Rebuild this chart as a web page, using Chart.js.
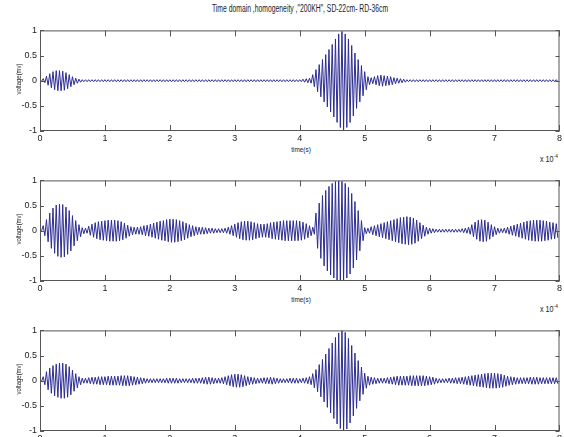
<!DOCTYPE html>
<html>
<head>
<meta charset="utf-8">
<script src="https://cdn.jsdelivr.net/npm/chart.js@4.4.1/dist/chart.umd.min.js"></script>
<style>
  html, body { margin: 0; padding: 0; background: #fff; overflow: hidden; }
  body { width: 564px; height: 437px; position: relative; font-family: 'Liberation Sans', sans-serif; color: #222; }
  .box { position: absolute; left: 0; width: 564px; height: 123px; }
  .lbl { position: absolute; white-space: nowrap; font-size: 8px; line-height: 8px; }
  .ylab { transform: translate(-50%, -50%) rotate(-90deg) scaleX(0.85); font-size: 7px; }
  .xlab { transform: translateX(-50%) scaleX(0.8); }
  .title { position: absolute; left: 300px; top: 3px; transform: translateX(-50%) scaleX(0.68); font-size: 10px; white-space: nowrap; }
  .exp { transform: scaleX(0.8); transform-origin: left top; font-size: 9px; }
  sup { font-size: 6px; vertical-align: 4px; }
</style>
</head>
<body>
<div class="title">Time domain ,homogeneity ,"200KH", SD-22cm- RD-36cm</div>

<div class="box" style="top:22px"><canvas id="c1"></canvas></div>
<div class="box" style="top:172px"><canvas id="c2"></canvas></div>
<div class="box" style="top:322px"><canvas id="c3"></canvas></div>

<div class="lbl ylab" style="left:19px; top:79px">voltage(mv)</div>
<div class="lbl ylab" style="left:19px; top:229px">voltage(mv)</div>
<div class="lbl ylab" style="left:19px; top:379px">voltage(mv)</div>

<div class="lbl xlab" style="left:301px; top:146px">time(s)</div>
<div class="lbl xlab" style="left:301px; top:296px">time(s)</div>

<div class="lbl exp" style="left:540px; top:152px">x 10<sup>-4</sup></div>
<div class="lbl exp" style="left:540px; top:302px">x 10<sup>-4</sup></div>

<script>
// time axis in units of 1e-4 s, one carrier cycle (200 kHz) = 0.05
var cycle = 0.05;
var xTicks = [0, 1, 2, 3, 4, 5, 6, 7, 8];
var yTicks = [-1, -0.5, 0, 0.5, 1];

// peak amplitude of each carrier cycle (20 per 1e-4 s)
var amp1 = [
  0.01,0.04,0.09,0.14,0.18,0.20,0.20,0.19,0.16,0.12,0.08,0.05,0.03,0.02,0.02,0.02,0.02,0.02,0.02,0.02,
  0.02,0.02,0.02,0.02,0.02,0.02,0.02,0.02,0.02,0.02,0.02,0.02,0.02,0.02,0.02,0.02,0.02,0.02,0.02,0.02,
  0.02,0.02,0.02,0.02,0.02,0.02,0.02,0.02,0.02,0.02,0.02,0.02,0.02,0.02,0.02,0.02,0.02,0.02,0.02,0.02,
  0.02,0.02,0.02,0.02,0.02,0.02,0.02,0.02,0.02,0.02,0.02,0.02,0.02,0.02,0.02,0.02,0.02,0.02,0.02,0.02,
  0.02,0.03,0.04,0.05,0.12,0.22,0.32,0.42,0.52,0.62,0.72,0.83,0.93,0.98,0.93,0.83,0.70,0.55,0.42,0.30,
  0.18,0.08,0.06,0.08,0.10,0.11,0.10,0.09,0.08,0.06,0.05,0.04,0.03,0.02,0.02,0.02,0.02,0.02,0.02,0.02,
  0.02,0.02,0.02,0.02,0.02,0.02,0.02,0.02,0.02,0.02,0.02,0.02,0.02,0.02,0.02,0.02,0.02,0.02,0.02,0.02,
  0.02,0.02,0.02,0.02,0.02,0.02,0.02,0.02,0.02,0.02,0.02,0.02,0.02,0.02,0.02,0.02,0.02,0.02,0.02,0.02
];
var amp2 = [
  0.00,0.10,0.22,0.35,0.45,0.51,0.53,0.52,0.47,0.40,0.30,0.20,0.12,0.06,0.05,0.09,0.13,0.16,0.18,0.19,
  0.20,0.21,0.21,0.21,0.20,0.18,0.15,0.11,0.08,0.07,0.07,0.08,0.10,0.11,0.13,0.15,0.17,0.19,0.20,0.22,
  0.23,0.23,0.22,0.20,0.18,0.15,0.12,0.10,0.08,0.07,0.07,0.06,0.05,0.05,0.04,0.04,0.04,0.05,0.07,0.10,
  0.13,0.16,0.18,0.19,0.19,0.18,0.16,0.14,0.13,0.13,0.14,0.16,0.17,0.18,0.19,0.20,0.20,0.20,0.20,0.20,
  0.19,0.17,0.14,0.10,0.07,0.35,0.55,0.70,0.80,0.88,0.94,0.98,0.99,0.98,0.94,0.86,0.74,0.58,0.40,0.20,
  0.06,0.05,0.08,0.10,0.12,0.14,0.16,0.18,0.20,0.22,0.24,0.26,0.27,0.28,0.27,0.25,0.21,0.16,0.11,0.07,
  0.05,0.04,0.03,0.03,0.03,0.03,0.03,0.03,0.03,0.03,0.04,0.05,0.07,0.12,0.17,0.21,0.22,0.21,0.17,0.12,
  0.08,0.05,0.04,0.05,0.07,0.09,0.11,0.13,0.15,0.17,0.19,0.20,0.21,0.21,0.21,0.20,0.19,0.17,0.16,0.14
];
var amp3 = [
  0.01,0.08,0.18,0.25,0.30,0.33,0.35,0.35,0.33,0.28,0.21,0.14,0.08,0.05,0.05,0.06,0.07,0.07,0.08,0.08,
  0.08,0.09,0.09,0.09,0.09,0.10,0.10,0.10,0.09,0.08,0.07,0.06,0.05,0.04,0.04,0.04,0.04,0.04,0.04,0.05,
  0.05,0.05,0.05,0.04,0.04,0.04,0.04,0.05,0.05,0.05,0.06,0.07,0.07,0.06,0.05,0.05,0.06,0.08,0.10,0.12,
  0.13,0.13,0.12,0.10,0.08,0.07,0.06,0.05,0.05,0.06,0.06,0.07,0.06,0.05,0.04,0.04,0.04,0.05,0.05,0.05,
  0.04,0.05,0.06,0.08,0.14,0.22,0.32,0.42,0.53,0.64,0.75,0.86,0.95,1.00,0.96,0.84,0.70,0.55,0.40,0.27,
  0.15,0.09,0.07,0.06,0.05,0.05,0.05,0.06,0.07,0.08,0.09,0.09,0.09,0.09,0.10,0.10,0.10,0.10,0.10,0.09,
  0.08,0.07,0.05,0.04,0.04,0.04,0.05,0.05,0.06,0.06,0.07,0.08,0.09,0.10,0.11,0.12,0.13,0.14,0.15,0.15,
  0.15,0.14,0.13,0.11,0.09,0.08,0.07,0.06,0.06,0.06,0.06,0.07,0.07,0.07,0.06,0.06,0.06,0.06,0.06,0.06
];

// each cycle: positive peak, then negative peak half a cycle later
function toPoints(amps) {
    var pts = [];
    amps.forEach(function (a, k) {
        pts.push({ x: k * cycle, y: a });
        pts.push({ x: k * cycle + cycle / 2, y: -a });
    });
    return pts;
}

// box and inward ticks on all four sides, like a matlab axes
var frame = {
    id: 'frame',
    afterDraw: function (chart) {
        var ctx = chart.ctx, a = chart.chartArea;
        var xs = chart.scales.x, ys = chart.scales.y;
        ctx.save();
        ctx.strokeStyle = '#555';
        ctx.lineWidth = 1;
        ctx.strokeRect(a.left + 0.5, a.top + 0.5, a.width - 1, a.height - 1);
        ctx.beginPath();
        xTicks.forEach(function (v) {
            var px = Math.round(xs.getPixelForValue(v)) + 0.5;
            ctx.moveTo(px, a.bottom); ctx.lineTo(px, a.bottom - 6);
            ctx.moveTo(px, a.top); ctx.lineTo(px, a.top + 6);
        });
        yTicks.forEach(function (v) {
            var py = Math.round(ys.getPixelForValue(v)) + 0.5;
            ctx.moveTo(a.left, py); ctx.lineTo(a.left + 4, py);
            ctx.moveTo(a.right, py); ctx.lineTo(a.right - 4, py);
        });
        ctx.stroke();
        ctx.restore();
    }
};

var tickFont = { family: "'Liberation Sans', sans-serif", size: 9 };

function makeChart(id, amps) {
    var ctx = document.getElementById(id).getContext('2d');
    return new Chart(ctx, {
        type: 'line',
        data: {
            datasets: [{
                data: toPoints(amps),
                borderColor: '#2c2c92',
                borderWidth: 1,
                pointRadius: 0,
                tension: 0
            }]
        },
        options: {
            responsive: true,
            maintainAspectRatio: false,
            animation: false,
            events: [],
            layout: { padding: { top: 5, right: 3, left: 0, bottom: 0 } },
            plugins: { legend: { display: false }, tooltip: { enabled: false } },
            scales: {
                x: {
                    type: 'linear',
                    min: 0, max: 8,
                    afterBuildTicks: function (s) { s.ticks = xTicks.map(function (v) { return { value: v }; }); },
                    afterFit: function (s) { s.height = 14; },
                    grid: { display: false, drawTicks: false, tickLength: 0 },
                    border: { display: false },
                    ticks: { color: '#222', padding: 2, maxRotation: 0, font: tickFont,
                             callback: function (v) { return String(v); } }
                },
                y: {
                    min: -1, max: 1,
                    afterBuildTicks: function (s) { s.ticks = yTicks.map(function (v) { return { value: v }; }); },
                    afterFit: function (s) { s.width = 40; },
                    grid: { display: false, drawTicks: false, tickLength: 0 },
                    border: { display: false },
                    ticks: { color: '#222', padding: 3, font: tickFont,
                             callback: function (v) { return String(v); } }
                }
            }
        },
        plugins: [frame]
    });
}

makeChart('c1', amp1);
makeChart('c2', amp2);
makeChart('c3', amp3);
</script>
</body>
</html>
